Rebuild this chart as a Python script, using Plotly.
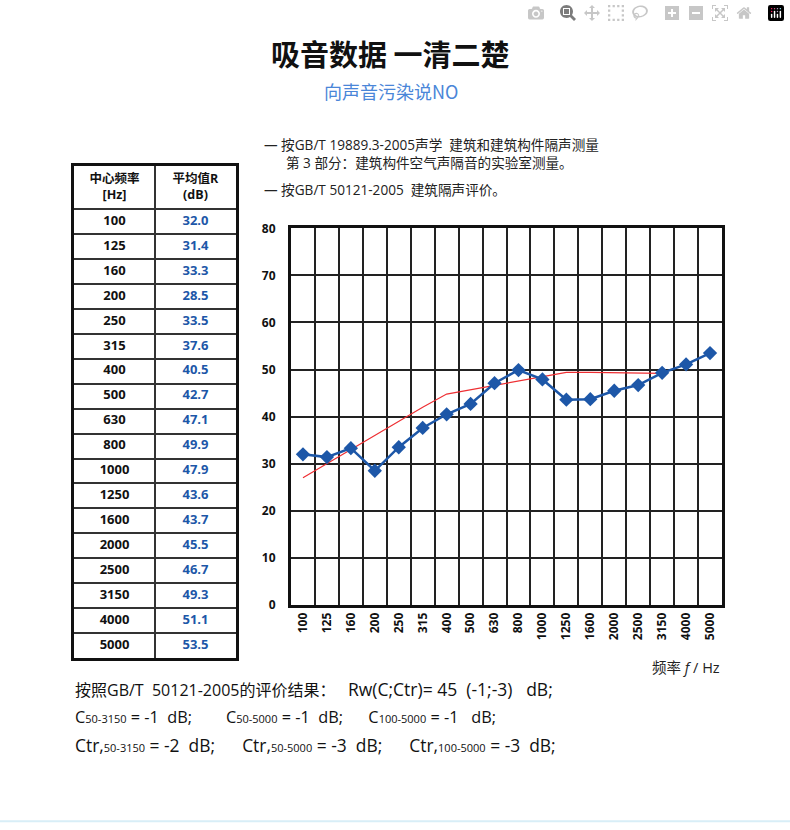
import plotly.graph_objects as go

# one-third octave bands and measured sound reduction index R (dB)
freqs = ['100', '125', '160', '200', '250', '315', '400', '500', '630',
         '800', '1000', '1250', '1600', '2000', '2500', '3150', '4000', '5000']
r_values = [32.0, 31.4, 33.3, 28.5, 33.5, 37.6, 40.5, 42.7, 47.1,
            49.9, 47.9, 43.6, 43.7, 45.5, 46.7, 49.3, 51.1, 53.5]

# shifted reference curve (GB/T 50121), 100 - 3150 Hz
ref_freqs = freqs[:16]
ref_values = [27.0, 30.0, 33.0, 36.0, 39.0, 42.0, 44.8, 45.7, 46.6,
              47.5, 48.5, 49.4, 49.4, 49.3, 49.3, 49.2]

y_ticks = [0, 10, 20, 30, 40, 50, 60, 70, 80]
table_header = ['<b>中心频率<br>[Hz]</b>', '<b>平均值R<br>(dB)</b>']

W, H = 790, 830
FONT = "Open Sans, Noto Sans CJK SC"
CJK = "Noto Sans CJK SC"
BLUE = "#1d57a8"


def px(x):
    return x / W


def py(y):
    # the photographed page comes out slightly squeezed vertically,
    # so pixel rows of the reference are mapped back first
    y = (y - 10) / 0.978
    return max(0.0, 1 - y / H)


fig = go.Figure()

# ---- left table, drawn on its own pair of axes (rows = 1 unit)
n_rows = len(freqs)
head = 43 / 25.0
rows_y = [i + 0.5 for i in range(n_rows)]
fig.add_trace(go.Scatter(
    x=[0.5] * n_rows, y=rows_y, mode='text', xaxis='x2', yaxis='y2',
    text=['<b>%s</b>' % f for f in freqs],
    textfont=dict(family=FONT, size=13, color='#111111'),
    hoverinfo='skip', showlegend=False,
))
fig.add_trace(go.Scatter(
    x=[1.5] * n_rows, y=rows_y, mode='text', xaxis='x2', yaxis='y2',
    text=['<b>%.1f</b>' % v for v in r_values],
    textfont=dict(family=FONT, size=13, color=BLUE),
    hoverinfo='skip', showlegend=False,
))
fig.add_trace(go.Scatter(
    x=[0.5, 1.5], y=[-head / 2] * 2, mode='text', xaxis='x2', yaxis='y2',
    text=table_header,
    textfont=dict(family=FONT, size=12.5, color='#111111'),
    hoverinfo='skip', showlegend=False,
))

# ---- chart
fig.add_trace(go.Scatter(
    x=ref_freqs, y=ref_values, mode='lines',
    line=dict(color='#ee2f33', width=1.2),
    hoverinfo='skip', showlegend=False,
))
fig.add_trace(go.Scatter(
    x=freqs, y=r_values, mode='lines+markers',
    line=dict(color=BLUE, width=2.5),
    marker=dict(symbol='diamond', size=11, color=BLUE),
    showlegend=False,
))

fig.update_layout(
    xaxis=dict(
        domain=[px(291), px(722)],
        type='category', categoryorder='array', categoryarray=freqs,
        range=[-0.5, 17.5], tickson='boundaries',
        showgrid=True, gridcolor='#222222', gridwidth=1.5,
        showline=True, mirror=True, linecolor='#111111', linewidth=3,
        ticks='outside', ticklen=8, tickcolor='rgba(0,0,0,0)',
        tickangle=-90, tickfont=dict(family=FONT, size=12, color='#111111'),
        tickvals=freqs, ticktext=['<b>%s</b>' % f for f in freqs],
    ),
    yaxis=dict(
        domain=[py(605), py(229)],
        range=[0, 80], tickvals=y_ticks,
        ticktext=['<b>%d</b>' % t for t in y_ticks],
        showgrid=True, gridcolor='#222222', gridwidth=1.5, zeroline=False,
        showline=True, mirror=True, linecolor='#111111', linewidth=3,
        ticks='outside', ticklen=10, tickcolor='rgba(0,0,0,0)',
        tickfont=dict(family=FONT, size=12, color='#111111'),
    ),
    xaxis2=dict(
        domain=[px(74), px(236)], anchor='y2', range=[0, 2],
        tickvals=[1], showticklabels=False, ticks='',
        showgrid=True, gridcolor='#333333', gridwidth=1.5, zeroline=False,
        showline=True, mirror=True, linecolor='#111111', linewidth=2.5,
    ),
    yaxis2=dict(
        domain=[py(658), py(167)], anchor='x2', range=[n_rows, -head],
        tickvals=list(range(n_rows)), showticklabels=False, ticks='',
        showgrid=True, gridcolor='#333333', gridwidth=1.5, zeroline=False,
        showline=True, mirror=True, linecolor='#111111', linewidth=2.5,
    ),
)

nb = '\u00a0'
sub = '<span style="font-size:11px">%s</span>'
big = '<span style="font-size:17.5px">%s</span>'
notes = [
    dict(x=390, y=54, text='<b>吸音数据 一清二楚</b>', size=29, color='#111111',
         anchor='center', family=CJK),
    dict(x=391, y=92, text='向声音污染说NO', size=18, color='#4a86d8',
         anchor='center', family=CJK),
    dict(x=262, y=145, text='— 按GB/T 19889.3-2005声学' + nb * 2 + '建筑和建筑构件隔声测量',
         size=13.6, color='#222222', anchor='left', family=FONT),
    dict(x=284, y=163, text='第 3 部分：建筑构件空气声隔音的实验室测量。',
         size=13.6, color='#222222', anchor='left', family=FONT),
    dict(x=262, y=190, text='— 按GB/T 50121-2005' + nb * 2 + '建筑隔声评价。',
         size=13.6, color='#222222', anchor='left', family=FONT),
    dict(x=722, y=667, text='频率 <i>f</i> / Hz', size=14.5, color='#222222',
         anchor='right', family=FONT),
    dict(x=73, y=689,
         text='按照GB/T' + nb * 2 + '50121-2005的评价结果：' + nb * 3
              + big % ('Rw(C;Ctr)=' + nb + '45' + nb * 2 + '(-1;-3)' + nb * 3 + 'dB;'),
         size=16, color='#111111', anchor='left', family=FONT),
    dict(x=73, y=717,
         text='C' + sub % '50-3150' + ' = -1' + nb * 2 + 'dB;' + nb * 8
              + 'C' + sub % '50-5000' + ' = -1' + nb * 2 + 'dB;' + nb * 6
              + 'C' + sub % '100-5000' + ' = -1' + nb * 3 + 'dB;',
         size=16.3, color='#111111', anchor='left', family=FONT),
    dict(x=73, y=745,
         text='Ctr,' + sub % '50-3150' + ' = -2' + nb * 2 + 'dB;' + nb * 6
              + 'Ctr,' + sub % '50-5000' + ' = -3' + nb * 2 + 'dB;' + nb * 6
              + 'Ctr,' + sub % '100-5000' + ' = -3' + nb * 2 + 'dB;',
         size=17.4, color='#111111', anchor='left', family=FONT),
]
for n in notes:
    fig.add_annotation(
        x=px(n['x']), y=py(n['y']), xref='paper', yref='paper',
        text=n['text'], showarrow=False, xanchor=n['anchor'], yanchor='middle',
        font=dict(family=n['family'], size=n['size'], color=n['color']),
    )

# faint strip at the bottom of the page
fig.add_shape(type='line', xref='paper', yref='paper',
              x0=0, x1=1, y0=0.001, y1=0.001,
              line=dict(color='#d8eef7', width=2))

fig.update_layout(
    width=W, height=H, autosize=False,
    margin=dict(l=0, r=0, t=0, b=0),
    paper_bgcolor='white', plot_bgcolor='white',
    font=dict(family=FONT),
)

fig.write_html("out.html", post_script="document.body.style.margin='0';")
